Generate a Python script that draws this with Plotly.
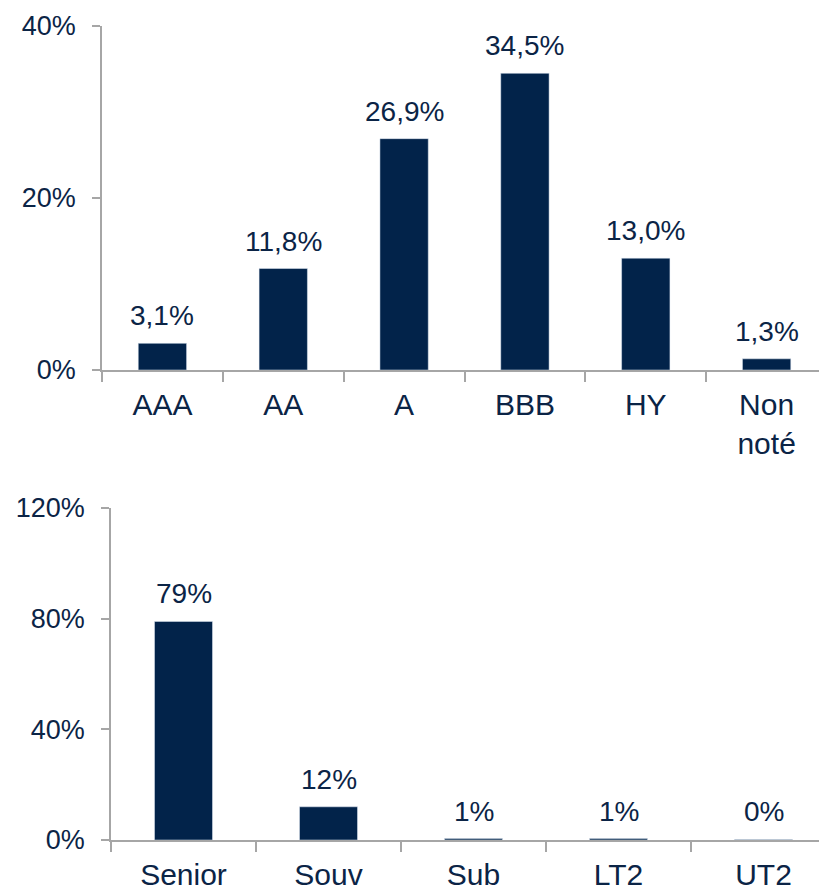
import plotly.graph_objects as go

# Top chart: rating breakdown
rating_cats = ["AAA", "AA", "A", "BBB", "HY", "Non<br>noté"]
rating_vals = [3.1, 11.8, 26.9, 34.5, 13.0, 1.3]
rating_labels = ["3,1%", "11,8%", "26,9%", "34,5%", "13,0%", "1,3%"]

# Bottom chart: seniority breakdown
senior_cats = ["Senior", "Souv", "Sub", "LT2", "UT2"]
senior_vals = [79, 12, 0.5, 0.5, 0.2]
senior_labels = ["79%", "12%", "1%", "1%", "0%"]

top_ticks = [0, 20, 40]
top_ticktext = ["0%", "20%", "40%"]
bottom_ticks = [0, 40, 80, 120]
bottom_ticktext = ["0%", "40%", "80%", "120%"]

W, H = 827, 891
OFF = 8  # page body margin offset
BAR = "#02234A"
TXT = "#0B2446"
AX = "#A6A6A6"
FONT = "Liberation Sans, Arial, sans-serif"


def px_x(v):
    return (v - OFF) / W


def px_y(v):
    return 1 - (v - OFF) / H


fig = go.Figure()
fig.add_trace(go.Bar(x=rating_cats, y=rating_vals, marker_color=BAR, width=0.4,
                     xaxis="x", yaxis="y", showlegend=False, hoverinfo="skip"))
fig.add_trace(go.Bar(x=senior_cats, y=senior_vals, marker_color=BAR, width=0.4,
                     xaxis="x2", yaxis="y2", showlegend=False, hoverinfo="skip"))

annotations = []
for c, v, t in zip(rating_cats, rating_vals, rating_labels):
    annotations.append(dict(x=c, y=v, xref="x", yref="y", text=t, showarrow=False,
                            yanchor="bottom", yshift=10, font=dict(size=28, color=TXT, family=FONT)))
for c, v, t in zip(senior_cats, senior_vals, senior_labels):
    annotations.append(dict(x=c, y=v, xref="x2", yref="y2", text=t, showarrow=False,
                            yanchor="bottom", yshift=10, font=dict(size=28, color=TXT, family=FONT)))

xcommon = dict(type="category", showline=True, linecolor=AX, linewidth=1.5,
               ticks="outside", tickson="boundaries", ticklen=10, tickcolor=AX, tickwidth=1.5,
               tickfont=dict(size=30, color=TXT, family=FONT), showgrid=False, zeroline=False,
               ticklabelstandoff=7, automargin=False, fixedrange=True)
ycommon = dict(showline=True, linecolor=AX, linewidth=1.5, ticks="outside", ticklen=8,
               tickcolor=AX, tickwidth=1.5, showgrid=False, zeroline=False,
               tickfont=dict(size=27, color=TXT, family=FONT), ticklabelstandoff=11,
               automargin=False, fixedrange=True)

fig.update_layout(
    width=W, height=H,
    margin=dict(l=0, r=0, t=0, b=0, autoexpand=False),
    paper_bgcolor="white", plot_bgcolor="white",
    font=dict(family=FONT, color=TXT),
    xaxis=dict(**xcommon, domain=[px_x(102), 1], range=[-0.5, 5.566], anchor="y"),
    yaxis=dict(**ycommon, domain=[px_y(370), px_y(26)], range=[0, 40],
               tickvals=top_ticks, ticktext=top_ticktext, anchor="x"),
    xaxis2=dict(**xcommon, domain=[px_x(111), 1], range=[-0.5, 4.493], anchor="y2"),
    yaxis2=dict(**ycommon, domain=[px_y(840), px_y(508)], range=[0, 120],
                tickvals=bottom_ticks, ticktext=bottom_ticktext, anchor="x2"),
    annotations=annotations,
)

fig.write_html("out.html")
